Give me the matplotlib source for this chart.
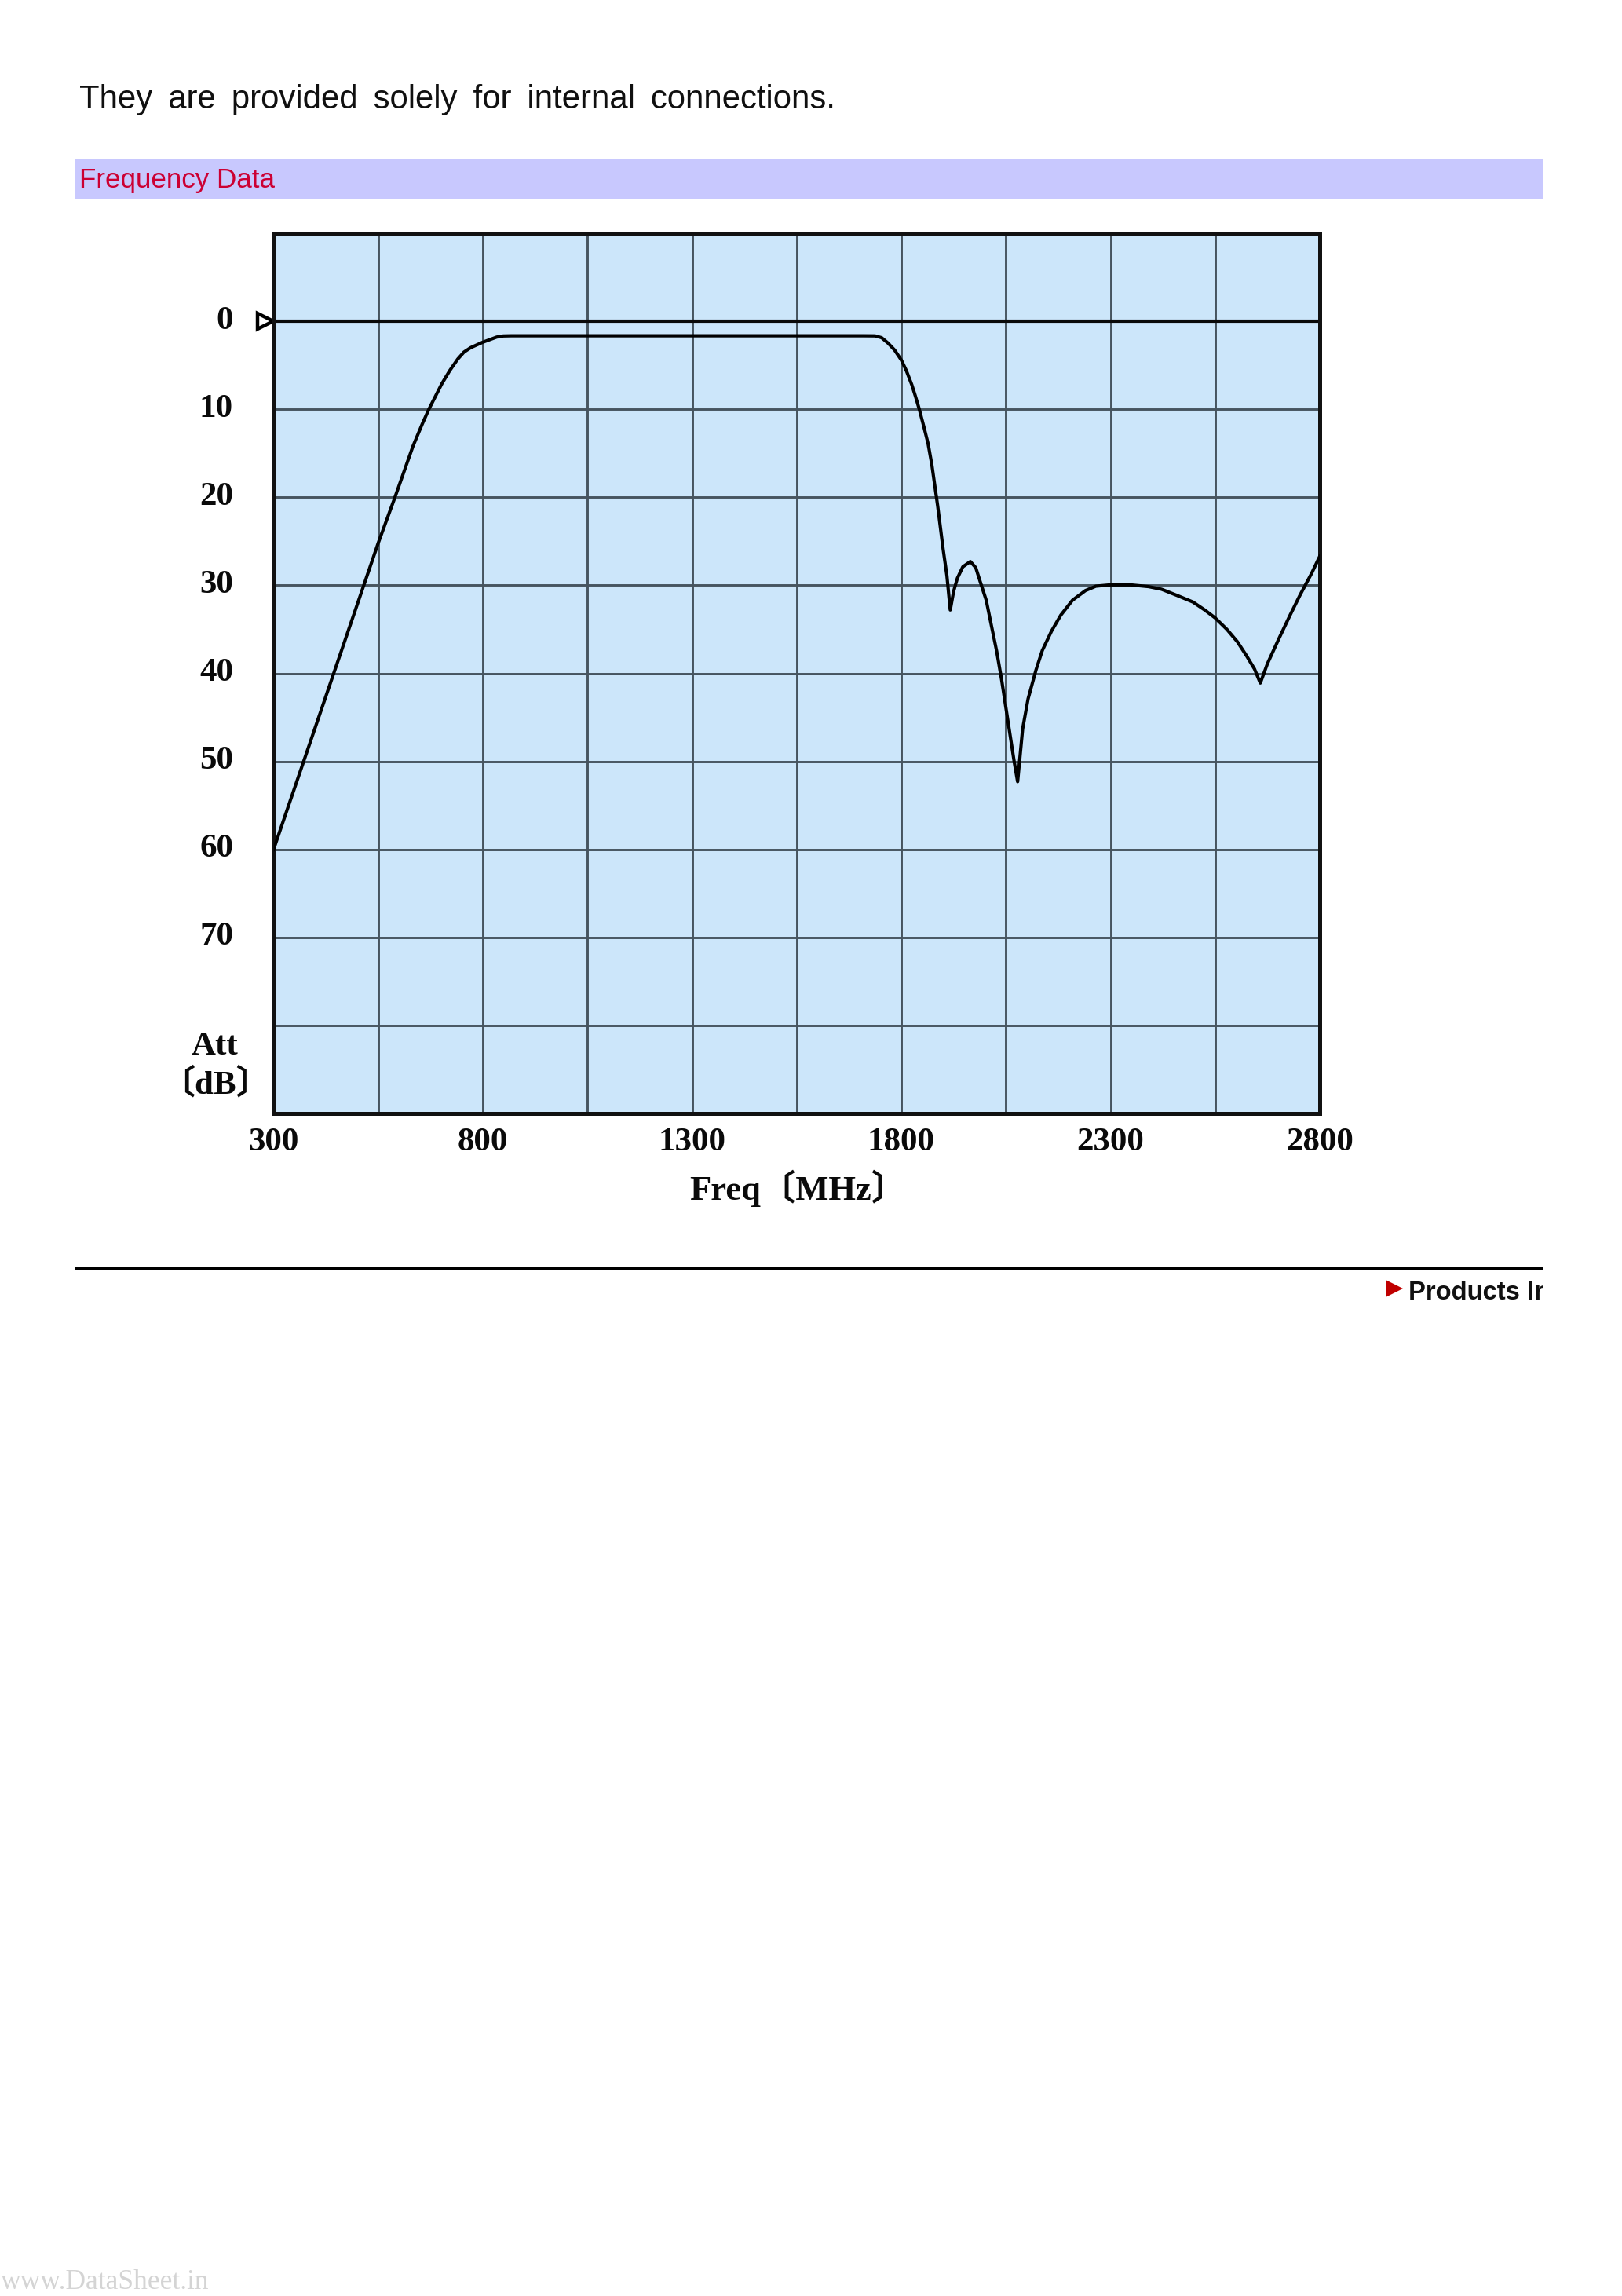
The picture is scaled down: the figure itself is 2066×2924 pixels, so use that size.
import matplotlib
matplotlib.use("Agg")
import matplotlib.pyplot as plt
from matplotlib.patches import Rectangle, Polygon
from matplotlib.transforms import Bbox, ScaledTranslation

W, H = 2066, 2924
DPI = 100

freq = [300, 425, 550, 590, 633, 655, 671, 702, 721, 740, 755, 771, 799, 833, 849, 868, 1000, 1300, 1600,
        1709, 1737, 1753, 1768, 1784, 1800, 1812, 1825, 1834, 1843, 1854, 1864, 1873, 1887, 1900, 1909, 1917,
        1925, 1934, 1947, 1965, 1978, 1990, 2003, 2015, 2028, 2040, 2058, 2070, 2078,
        2090, 2103, 2122, 2137, 2159, 2181, 2209, 2240, 2265, 2300, 2347, 2391, 2422,
        2459, 2497, 2525, 2550, 2578, 2603, 2625, 2644, 2658,
        2675, 2703, 2728, 2753, 2781, 2800]
att = [60, 42.6, 25.2, 20, 14.2, 11.7, 10, 7.1, 5.6, 4.3, 3.5, 3.0, 2.4, 1.8, 1.67, 1.65, 1.65, 1.65, 1.65,
       1.65, 1.66, 1.87, 2.47, 3.27, 4.4, 5.6, 7.2, 8.55, 10.0, 12.0, 13.9, 16.3, 21.0, 25.9, 28.9, 32.8,
       30.7, 29.2, 27.9, 27.3, 28.0, 29.8, 31.7, 34.5, 37.5, 40.8, 46.4, 50.1, 52.3,
       46.3, 42.9, 39.6, 37.4, 35.2, 33.4, 31.7, 30.6, 30.1, 29.95, 29.95, 30.15, 30.45,
       31.15, 31.9, 32.8, 33.7, 35.0, 36.4, 38.0, 39.5, 41.1,
       38.9, 36.0, 33.5, 31.1, 28.6, 26.7]

x_grid = [300, 550, 800, 1050, 1300, 1550, 1800, 2050, 2300, 2550, 2800]
x_ticks = [300, 800, 1300, 1800, 2300, 2800]
y_grid = [0, 10, 20, 30, 40, 50, 60, 70, 80]
y_ticks = [0, 10, 20, 30, 40, 50, 60, 70]

SERIF = ["Liberation Serif", "Noto Sans CJK JP"]
SANS = "Liberation Sans"
GRID = "#46545f"


def fx(px):
    return px / W


def fy(px):
    return 1 - px / H


fig = plt.figure(figsize=(W / DPI, H / DPI), dpi=DPI, facecolor="white")

# page furniture
sentence = ("They are provided solely for internal connections.").replace(" ", " \u2009")
fig.text(fx(101), fy(138), sentence, family=SANS, fontsize=30.2, color="#101010", va="baseline")
fig.add_artist(Rectangle((fx(96), fy(253)), fx(1870), 51 / H, transform=fig.transFigure,
                         facecolor="#C8C8FE", edgecolor="none"))
fig.text(fx(101), fy(239), "Frequency Data", family=SANS, fontsize=25.2, color="#CC0033", va="baseline")

ax = fig.add_axes([fx(348.5), fy(1418), fx(1681 - 348.5), (1418 - 297) / H], facecolor="#CCE6FA")
ax.set_xlim(300, 2800)
ax.set_ylim(90, -10)
ax.set_xticks(x_ticks)
ax.set_yticks(y_ticks)
ax.tick_params(length=0, labelsize=31, colors="#0a0a0a")
ax.tick_params(axis="y", pad=37)
ax.tick_params(axis="x", pad=13)
for lab in ax.get_xticklabels() + ax.get_yticklabels():
    lab.set_family(SERIF)
    lab.set_fontweight("bold")
up = ScaledTranslation(0, 5 / DPI, fig.dpi_scale_trans)
for lab in ax.get_yticklabels():
    lab.set_transform(lab.get_transform() + up)

for v in x_grid[1:-1]:
    ax.axvline(v, color=GRID, lw=2.1, zorder=1)
for v in y_grid:
    ax.axhline(v, color="#0a0a0a" if v == 0 else GRID, lw=3.0 if v == 0 else 2.1, zorder=1)
for s in ax.spines.values():
    s.set_linewidth(3.6)
    s.set_color("#111111")

ax.plot(freq, att, color="black", lw=3.0, solid_joinstyle="round", zorder=3)

# reference marker on the 0 dB line, sitting just outside the frame
off = ScaledTranslation(-11 / DPI, 0, fig.dpi_scale_trans)
ax.plot([300], [0], marker=">", ms=15, mfc="white", mec="black", mew=3.2, clip_on=False,
        transform=ax.transData + off, zorder=2)

fig.text(fx(274), fy(1343), "Att", family=SERIF, fontsize=31, fontweight="bold", color="#0a0a0a",
         ha="center", va="baseline")
fig.text(fx(274), fy(1393), "〔dB〕", family=SERIF, fontsize=31, fontweight="bold", color="#0a0a0a",
         ha="center", va="baseline")
fig.text(fx(1016), fy(1528), "Freq〔MHz〕", family=SERIF, fontsize=32, fontweight="bold", color="#0a0a0a",
         ha="center", va="baseline")

# footer rule and link
fig.add_artist(Rectangle((fx(96), fy(1617)), fx(1870), 4 / H, transform=fig.transFigure,
                         facecolor="black", edgecolor="none"))
t = fig.text(fx(1794), fy(1655), "Products In", family=SANS, fontsize=23.6, fontweight="bold",
             color="#111111", va="baseline")
t.set_clip_box(Bbox([[1700, 0], [1966, H]]))
t.set_clip_on(True)
fig.add_artist(Polygon([(fx(1765), fy(1630)), (fx(1787), fy(1641)), (fx(1765), fy(1652))],
                       transform=fig.transFigure, facecolor="#C00000", edgecolor="none"))

fig.text(fx(1), fy(2915), "www.DataSheet.in", family="Liberation Serif", fontsize=25.5,
         color="#d4d4d4", va="baseline")

fig.savefig("out.png", dpi=DPI)
